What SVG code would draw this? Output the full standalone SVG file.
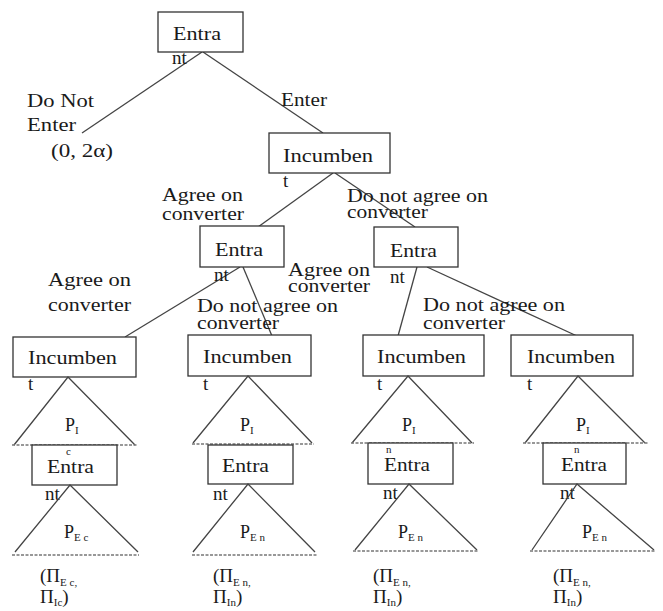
<svg xmlns="http://www.w3.org/2000/svg" width="663" height="611" viewBox="0 0 663 611">
<style>
text{font-family:'Liberation Serif','DejaVu Serif',serif;fill:#1a1a1a}
.t{font-size:19px}
.box{fill:#fff;stroke:#333;stroke-width:1.3}
.ln{stroke:#444;stroke-width:1.3;fill:none}
.base{stroke:#777;stroke-width:1.6;stroke-dasharray:3 1.5;fill:none}
.p{font-size:18px}
.s{font-size:11px}
.sup{font-size:11px}
</style>
<rect width="663" height="611" fill="#fff"/>
<g id="connectors">
<line class="ln" x1="202" y1="52" x2="82" y2="133"/>
<line class="ln" x1="203" y1="52" x2="323" y2="133"/>
<line class="ln" x1="333" y1="173" x2="258" y2="227"/>
<line class="ln" x1="335" y1="173" x2="415" y2="227"/>
<line class="ln" x1="240" y1="267" x2="125" y2="337"/>
<line class="ln" x1="243" y1="267" x2="272" y2="336"/>
<line class="ln" x1="417" y1="267" x2="398" y2="336"/>
<line class="ln" x1="427" y1="267" x2="577" y2="336"/>
</g>
<g font-family="Liberation Serif, DejaVu Serif, serif">
<g id="labels">
<text class="t" x="27" y="107" textLength="67" lengthAdjust="spacingAndGlyphs">Do Not</text>
<text class="t" x="27" y="131" textLength="49" lengthAdjust="spacingAndGlyphs">Enter</text>
<text class="t" x="51" y="157" textLength="62" lengthAdjust="spacingAndGlyphs">(0, 2α)</text>
<text class="t" x="281" y="106" textLength="46" lengthAdjust="spacingAndGlyphs">Enter</text>
<text class="t" x="162" y="201" textLength="81" lengthAdjust="spacingAndGlyphs">Agree on</text>
<text class="t" x="162" y="220" textLength="82" lengthAdjust="spacingAndGlyphs">converter</text>
<text class="t" x="347" y="202" textLength="141" lengthAdjust="spacingAndGlyphs">Do not agree on</text>
<text class="t" x="347" y="218" textLength="81" lengthAdjust="spacingAndGlyphs">converter</text>
<text class="t" x="48" y="286" textLength="83" lengthAdjust="spacingAndGlyphs">Agree on</text>
<text class="t" x="48" y="311" textLength="83" lengthAdjust="spacingAndGlyphs">converter</text>
<text class="t" x="288" y="276" textLength="82" lengthAdjust="spacingAndGlyphs">Agree on</text>
<text class="t" x="288" y="292" textLength="82" lengthAdjust="spacingAndGlyphs">converter</text>
<text class="t" x="197" y="312" textLength="141" lengthAdjust="spacingAndGlyphs">Do not agree on</text>
<text class="t" x="197" y="329" textLength="82" lengthAdjust="spacingAndGlyphs">converter</text>
<text class="t" x="423" y="311" textLength="142" lengthAdjust="spacingAndGlyphs">Do not agree on</text>
<text class="t" x="423" y="329" textLength="82" lengthAdjust="spacingAndGlyphs">converter</text>
</g>
<g id="n-entrant-top">
<rect class="box" x="158" y="12" width="85" height="40"/>
<text class="t" x="173" y="40" textLength="48" lengthAdjust="spacingAndGlyphs">Entra</text>
<text class="t" x="172" y="64">nt</text>
</g>
<g id="n-incumbent-top">
<rect class="box" x="269" y="133" width="121" height="40"/>
<text class="t" x="283" y="162" textLength="90" lengthAdjust="spacingAndGlyphs">Incumben</text>
<text class="t" x="283" y="187">t</text>
</g>
<g id="n-entrant-left">
<rect class="box" x="200" y="226" width="84" height="41"/>
<text class="t" x="215" y="256" textLength="48" lengthAdjust="spacingAndGlyphs">Entra</text>
<text class="t" x="214" y="281">nt</text>
</g>
<g id="n-entrant-right">
<rect class="box" x="374" y="227" width="84" height="40"/>
<text class="t" x="390" y="257" textLength="47" lengthAdjust="spacingAndGlyphs">Entra</text>
<text class="t" x="390" y="283">nt</text>
</g>
<g id="n-col1">
<rect class="box" x="13" y="337" width="123" height="40"/>
<text class="t" x="28" y="364" textLength="89" lengthAdjust="spacingAndGlyphs">Incumben</text>
<text class="t" x="28" y="390">t</text>
<polyline class="ln" points="14,445 68,377 135,445"/>
<line class="base" x1="12" y1="445" x2="138" y2="445"/>
<text class="p" x="65" y="431">P<tspan class="s" dy="3">I</tspan></text>
<rect class="box" x="32" y="445" width="85" height="40"/>
<text class="t" x="47" y="473" textLength="47" lengthAdjust="spacingAndGlyphs">Entra</text>
<text class="sup" x="66" y="455">c</text>
<text class="t" x="45" y="500">nt</text>
<polyline class="ln" points="15,552 70,485 138,552"/>
<line class="base" x1="12" y1="555" x2="139" y2="555"/>
<text class="p" x="64" y="538">P<tspan class="s" dy="3">E c</tspan></text>
<text class="t" x="40" y="582">(Π<tspan class="s" dy="4">E c,</tspan></text>
<text class="t" x="40" y="603">Π<tspan class="s" dy="3">Ic</tspan><tspan dy="-3">)</tspan></text>
</g>
<g id="n-col2">
<rect class="box" x="188" y="335" width="123" height="41"/>
<text class="t" x="203" y="363" textLength="89" lengthAdjust="spacingAndGlyphs">Incumben</text>
<text class="t" x="203" y="390">t</text>
<polyline class="ln" points="193,443 248,376 312,443"/>
<line class="base" x1="192" y1="444" x2="314" y2="444"/>
<text class="p" x="240" y="431">P<tspan class="s" dy="3">I</tspan></text>
<rect class="box" x="208" y="445" width="85" height="39"/>
<text class="t" x="222" y="472" textLength="47" lengthAdjust="spacingAndGlyphs">Entra</text>
<text class="t" x="213" y="500">nt</text>
<polyline class="ln" points="193,552 248,484 315,552"/>
<line class="base" x1="192" y1="555" x2="317" y2="555"/>
<text class="p" x="240" y="538">P<tspan class="s" dy="3">E n</tspan></text>
<text class="t" x="213" y="582">(Π<tspan class="s" dy="4">E n,</tspan></text>
<text class="t" x="213" y="603">Π<tspan class="s" dy="3">In</tspan><tspan dy="-3">)</tspan></text>
</g>
<g id="n-col3">
<rect class="box" x="363" y="335" width="121" height="41"/>
<text class="t" x="377" y="363" textLength="89" lengthAdjust="spacingAndGlyphs">Incumben</text>
<text class="t" x="377" y="390">t</text>
<polyline class="ln" points="352,443 408,376 472,443"/>
<line class="base" x1="351" y1="443" x2="474" y2="443"/>
<text class="p" x="402" y="431">P<tspan class="s" dy="3">I</tspan></text>
<rect class="box" x="368" y="443" width="85" height="41"/>
<text class="t" x="384" y="471" textLength="46" lengthAdjust="spacingAndGlyphs">Entra</text>
<text class="sup" x="386" y="453">n</text>
<text class="t" x="383" y="499">nt</text>
<polyline class="ln" points="355,550 409,484 477,550"/>
<line class="base" x1="353" y1="551" x2="479" y2="551"/>
<text class="p" x="398" y="538">P<tspan class="s" dy="3">E n</tspan></text>
<text class="t" x="373" y="582">(Π<tspan class="s" dy="4">E n,</tspan></text>
<text class="t" x="373" y="603">Π<tspan class="s" dy="3">In</tspan><tspan dy="-3">)</tspan></text>
</g>
<g id="n-col4">
<rect class="box" x="511" y="335" width="122" height="41"/>
<text class="t" x="527" y="363" textLength="88" lengthAdjust="spacingAndGlyphs">Incumben</text>
<text class="t" x="527" y="390">t</text>
<polyline class="ln" points="525,443 578,376 645,443"/>
<line class="base" x1="523" y1="443" x2="648" y2="443"/>
<text class="p" x="576" y="431">P<tspan class="s" dy="3">I</tspan></text>
<rect class="box" x="543" y="443" width="83" height="41"/>
<text class="t" x="561" y="471" textLength="46" lengthAdjust="spacingAndGlyphs">Entra</text>
<text class="sup" x="574" y="453">n</text>
<text class="t" x="560" y="499">nt</text>
<polyline class="ln" points="532,550 577,484 654,550"/>
<line class="base" x1="530" y1="551" x2="656" y2="551"/>
<text class="p" x="582" y="538">P<tspan class="s" dy="3">E n</tspan></text>
<text class="t" x="553" y="582">(Π<tspan class="s" dy="4">E n,</tspan></text>
<text class="t" x="553" y="603">Π<tspan class="s" dy="3">In</tspan><tspan dy="-3">)</tspan></text>
</g>
</g>
</svg>
